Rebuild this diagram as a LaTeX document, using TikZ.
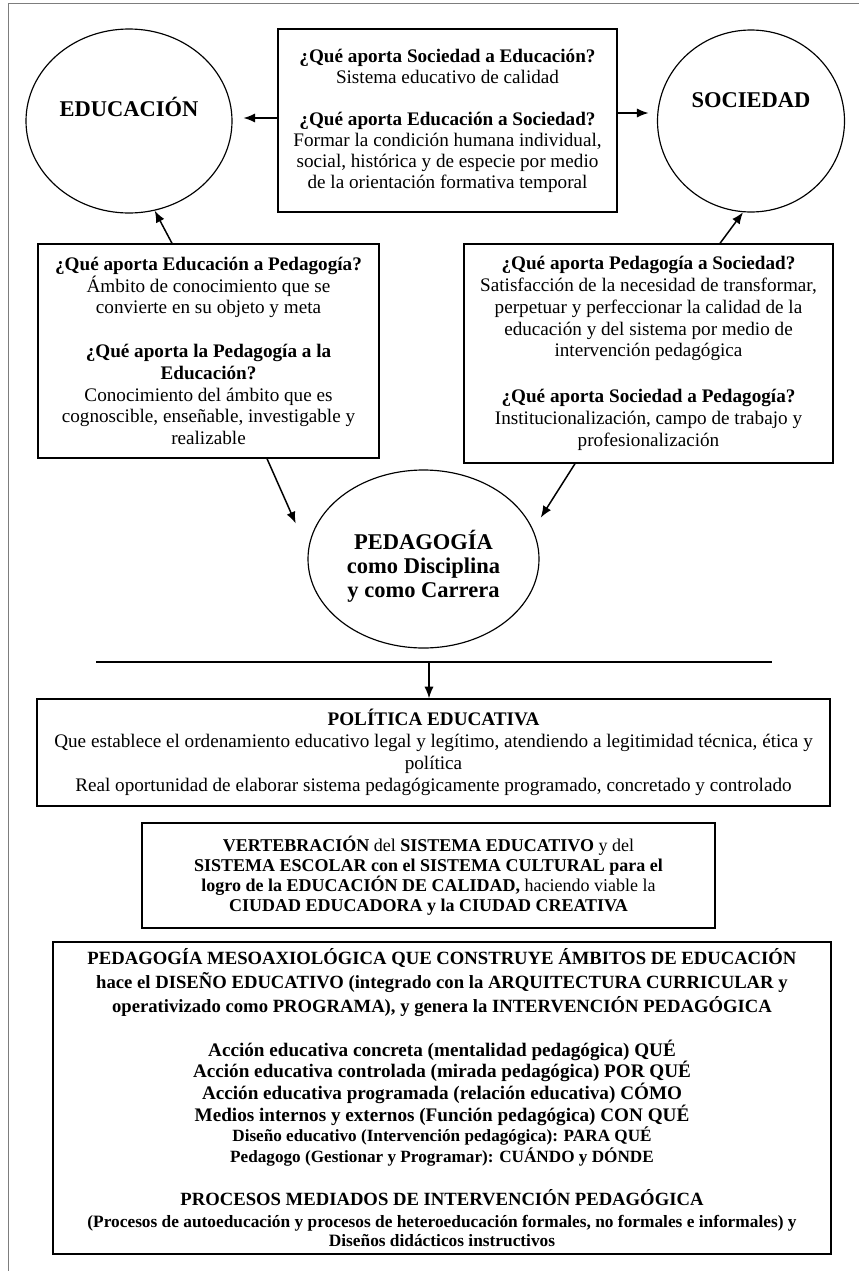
\documentclass[tikz,border=0pt]{standalone}
\usepackage{fontspec}
\setmainfont{Liberation Serif}
\usetikzlibrary{arrows.meta}
\usetikzlibrary{shapes.geometric}
\tikzset{>={Latex[length=7pt,width=5.5pt]}}
\definecolor{framegray}{RGB}{125,125,125}
\tikzstyle{caja}=[draw,line width=0.8pt,align=center,inner sep=0pt]
\tikzstyle{elipse}=[draw,ellipse,line width=0.7pt,inner sep=0pt]
\tikzstyle{flecha}=[->,line width=0.9pt]
\tikzstyle{titulo}=[font=\fontsize{13.5}{14.4}\selectfont\bfseries,align=center]
\tikzstyle{texto}=[font=\fontsize{11.5}{13.1}\selectfont]

\begin{document}
\begin{tikzpicture}[x=0.6pt,y=0.6pt]
  \useasboundingbox (0,0) rectangle (859,-1271);
  \draw[framegray,line width=0.6pt] (8,-1271) -- (8,-3) -- (859,-3);

  % circulos de arriba
  \node[elipse,minimum width=123.6pt,minimum height=110.4pt] (edu) at (129,-121) {};
  \node[titulo] (edutxt) at (129,-107) {EDUCACIÓN};
  \node[elipse,minimum width=112.2pt,minimum height=109.2pt] (soc) at (751,-121) {};
  \node[titulo] (soctxt) at (751,-100) {SOCIEDAD};

  \node[caja,texto,font=\fontsize{11.5}{12.5}\selectfont,minimum width=203.4pt,minimum height=109.8pt] (q1) at (447.5,-120.5) {%
    \textbf{¿Qué aporta Sociedad a Educación?}\\
    Sistema educativo de calidad\\[13pt]
    \textbf{¿Qué aporta Educación a Sociedad?}\\
    Formar la condición humana individual,\\
    social, histórica y de especie por medio\\
    de la orientación formativa temporal};

  \node[caja,texto,minimum width=204.6pt,minimum height=128.4pt] (lbox) at (208.5,-351) {%
    \textbf{¿Qué aporta Educación a Pedagogía?}\\
    Ámbito de conocimiento que se\\
    convierte en su objeto y meta\\[13pt]
    \textbf{¿Qué aporta la Pedagogía a la}\\
    \textbf{Educación?}\\
    Conocimiento del ámbito que es\\
    cognoscible, enseñable, investigable y\\
    realizable};

  \node[caja,texto,minimum width=221.4pt,minimum height=131.4pt] (rbox) at (648.5,-353.5) {%
    \textbf{¿Qué aporta Pedagogía a Sociedad?}\\
    Satisfacción de la necesidad de transformar,\\
    perpetuar y perfeccionar la calidad de la\\
    educación y del sistema por medio de\\
    intervención pedagógica\\[14.5pt]
    \textbf{¿Qué aporta Sociedad a Pedagogía?}\\
    Institucionalización, campo de trabajo y\\
    profesionalización};

  \node[elipse,minimum width=138.6pt,minimum height=106.8pt] (ped) at (423.5,-559) {};
  \node[titulo] (pedtxt) at (423.5,-566) {PEDAGOGÍA\\como Disciplina\\y como Carrera};

  \draw[flecha,shorten >=6.5pt] ([yshift=1.5pt]q1.west) -- ([yshift=1.5pt]edu.east |- q1.west);
  \draw[flecha,shorten >=5pt] ([yshift=4.5pt]q1.east) -- ([yshift=4.5pt]soc.west |- q1.east);
  \draw[flecha] ([xshift=-21.9pt]lbox.north) -- (edu.-74);
  \draw[flecha] ([xshift=42.9pt]rbox.north) -- (soc.-95);
  \draw[flecha,shorten >=18pt] ([xshift=35.1pt]lbox.south) -- (ped.176);
  \draw[flecha,shorten >=8.5pt] ([xshift=-44.1pt]rbox.south) -- (ped.15);

  % parte de abajo
  \draw[line width=0.8pt] (96,-662) -- (772,-662);
  \coordinate (barra) at (429,-662);

  \node[caja,texto,font=\fontsize{11.5}{13.2}\selectfont,minimum width=475.8pt,minimum height=64.2pt] (pol) at (433.5,-752.5) {%
    \textbf{POLÍTICA EDUCATIVA}\\
    Que establece el ordenamiento educativo legal y legítimo, atendiendo a legitimidad técnica, ética y\\
    política\\
    Real oportunidad de elaborar sistema pedagógicamente programado, concretado y controlado};
  \draw[flecha] (barra) -- (barra |- pol.north);

  \node[caja,font=\fontsize{10.8}{11.9}\selectfont,minimum width=343.8pt,minimum height=63pt] (vert) at (428.5,-875.5) {%
    \textbf{VERTEBRACIÓN} del \textbf{SISTEMA EDUCATIVO} y del\\
    \textbf{SISTEMA ESCOLAR con el SISTEMA CULTURAL para el}\\
    \textbf{logro de la EDUCACIÓN DE CALIDAD,} haciendo viable la\\
    \textbf{CIUDAD EDUCADORA y la CIUDAD CREATIVA}};

  \node[caja,font=\fontsize{11.5}{13}\selectfont\bfseries,minimum width=466.8pt,minimum height=187.2pt] (meso) at (442,-1098) {%
    {\fontsize{11.2}{14.4}\selectfont PEDAGOGÍA MESOAXIOLÓGICA QUE CONSTRUYE ÁMBITOS DE EDUCACIÓN}\\[1.4pt]
    {\fontsize{11.2}{14.4}\selectfont hace el DISEÑO EDUCATIVO (integrado con la ARQUITECTURA CURRICULAR y}\\[1.4pt]
    {\fontsize{11.2}{14.4}\selectfont operativizado como PROGRAMA), y genera la INTERVENCIÓN PEDAGÓGICA}\\[13pt]
    Acción educativa concreta (mentalidad pedagógica) QUÉ\\
    Acción educativa controlada (mirada pedagógica) POR QUÉ\\
    Acción educativa programada (relación educativa) CÓMO\\
    Medios internos y externos (Función pedagógica) CON QUÉ\\[-0.5pt]
    {\fontsize{10.3}{12}\selectfont Diseño educativo (Intervención pedagógica): PARA QUÉ}\\[-1pt]
    {\fontsize{10.3}{12}\selectfont Pedagogo (Gestionar y Programar): CUÁNDO y DÓNDE}\\[13pt]
    {\fontsize{11.2}{14.4}\selectfont PROCESOS MEDIADOS DE INTERVENCIÓN PEDAGÓGICA}\\[0.3pt]
    {\fontsize{10.4}{12}\selectfont (Procesos de autoeducación y procesos de heteroeducación formales, no formales e informales) y}\\[-1.3pt]
    {\fontsize{10.4}{12}\selectfont Diseños didácticos instructivos}};
\end{tikzpicture}
\end{document}
